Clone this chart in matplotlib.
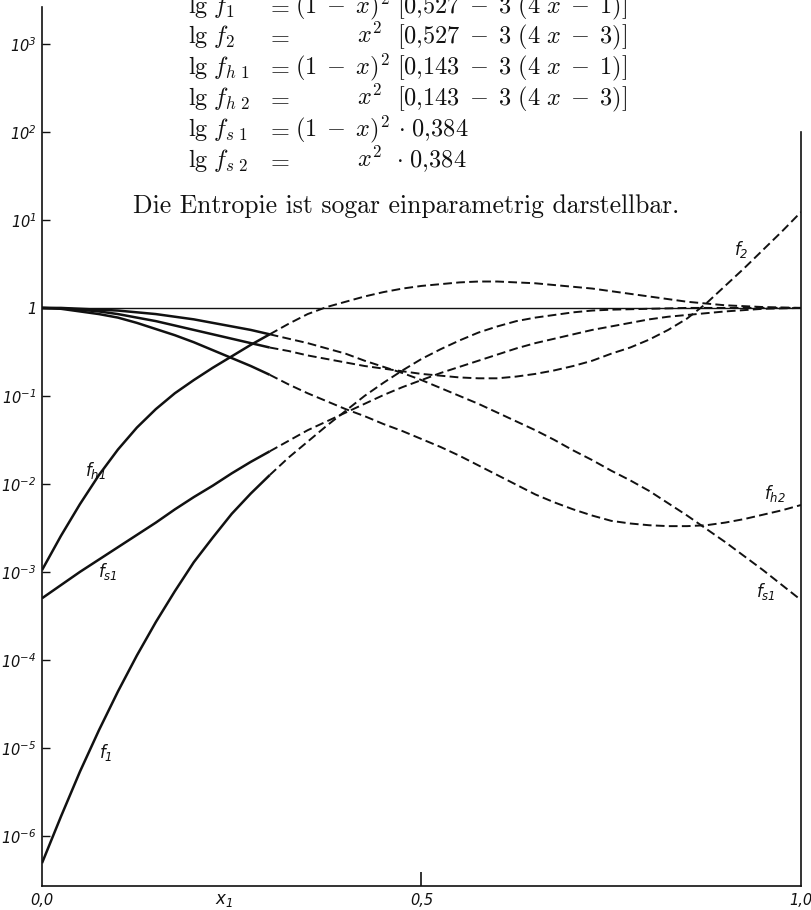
import matplotlib
matplotlib.use("Agg")
import matplotlib.pyplot as plt
from matplotlib.ticker import NullLocator
import numpy as np

plt.rcParams['font.family'] = ['DejaVu Sans']
plt.rcParams['mathtext.fontset'] = 'custom'
plt.rcParams['mathtext.rm'] = 'DejaVu Sans:italic'
plt.rcParams['mathtext.it'] = 'DejaVu Sans:italic'
plt.rcParams['mathtext.sf'] = 'DejaVu Sans:italic'

# ---------------- data (lg of the coefficients) ----------------
X = [0.000, 0.025, 0.050, 0.075, 0.100, 0.125, 0.150, 0.175, 0.200, 0.225,
     0.250, 0.275, 0.300, 0.325, 0.350, 0.375, 0.400, 0.425, 0.450, 0.475,
     0.500, 0.525, 0.550, 0.575, 0.600, 0.625, 0.650, 0.675, 0.700, 0.725,
     0.750, 0.775, 0.800, 0.825, 0.850, 0.875, 0.900, 0.925, 0.950, 0.975, 1.000]

LG_F1 = [-6.31, -5.78, -5.27, -4.80, -4.36, -3.95, -3.57, -3.22, -2.89, -2.61,
         -2.34, -2.11, -1.90, -1.70, -1.52, -1.34, -1.17, -1.00, -0.85, -0.71,
         -0.58, -0.47, -0.37, -0.28, -0.21, -0.15, -0.11, -0.08, -0.05, -0.03,
         -0.02, -0.015, -0.01, -0.005, 0.0, 0.0, 0.0, 0.0, 0.0, 0.0, 0.0]
LG_F2 = [0.0, -0.005, -0.02, -0.04, -0.07, -0.11, -0.15, -0.20, -0.25, -0.30,
         -0.35, -0.40, -0.45, -0.49, -0.54, -0.58, -0.62, -0.66, -0.69, -0.72,
         -0.75, -0.77, -0.79, -0.80, -0.80, -0.78, -0.75, -0.71, -0.66, -0.60,
         -0.52, -0.45, -0.36, -0.25, -0.12, 0.05, 0.25, 0.45, 0.66, 0.87, 1.09]
LG_FH1 = [-2.98, -2.59, -2.23, -1.90, -1.61, -1.36, -1.15, -0.97, -0.82, -0.68,
          -0.55, -0.42, -0.30, -0.18, -0.07, 0.01, 0.07, 0.13, 0.18, 0.22,
          0.25, 0.27, 0.29, 0.30, 0.30, 0.29, 0.28, 0.26, 0.24, 0.22,
          0.19, 0.16, 0.13, 0.10, 0.07, 0.05, 0.03, 0.02, 0.01, 0.005, 0.0]
LG_FH2 = [0.0, -0.01, -0.04, -0.07, -0.11, -0.17, -0.24, -0.31, -0.39, -0.48,
          -0.57, -0.66, -0.76, -0.87, -0.97, -1.06, -1.15, -1.23, -1.32, -1.40,
          -1.49, -1.58, -1.68, -1.79, -1.90, -2.01, -2.12, -2.21, -2.29, -2.36,
          -2.42, -2.45, -2.47, -2.48, -2.48, -2.47, -2.44, -2.40, -2.35, -2.30, -2.24]
LG_FS1 = [-3.30, -3.15, -3.00, -2.86, -2.72, -2.58, -2.44, -2.29, -2.15, -2.02,
          -1.88, -1.75, -1.63, -1.51, -1.39, -1.29, -1.19, -1.09, -0.99, -0.90,
          -0.82, -0.74, -0.67, -0.60, -0.53, -0.46, -0.40, -0.35, -0.30, -0.25,
          -0.21, -0.17, -0.13, -0.10, -0.08, -0.06, -0.04, -0.025, -0.01, -0.005, 0.0]
LG_FS2 = [0.0, 0.0, -0.01, -0.02, -0.03, -0.05, -0.07, -0.10, -0.13, -0.17,
          -0.21, -0.25, -0.30, -0.35, -0.40, -0.46, -0.52, -0.60, -0.67, -0.74,
          -0.82, -0.91, -1.00, -1.09, -1.19, -1.29, -1.39, -1.50, -1.62, -1.73,
          -1.85, -1.96, -2.08, -2.22, -2.36, -2.51, -2.66, -2.82, -2.98, -3.15, -3.32]

SOLID_END = 0.30  # curves are drawn solid up to here, dashed beyond

Y_TICKS = [1e-6, 1e-5, 1e-4, 1e-3, 1e-2, 1e-1, 1e0, 1e1, 1e2, 1e3]
Y_TICK_LABELS = [r'$10^{-6}$', r'$10^{-5}$', r'$10^{-4}$', r'$10^{-3}$', r'$10^{-2}$',
                 r'$10^{-1}$', r'$1$', r'$10^{1}$', r'$10^{2}$', r'$10^{3}$']
X_TICKS = [0.0, 0.5, 1.0]
X_TICK_LABELS = ['0,0', '0,5', '1,0']

CURVES = [
    (LG_F1, r'$f_1$', 0.084, -5.05),
    (LG_F2, r'$f_2$', 0.921, 0.66),
    (LG_FH1, r'$f_{h1}$', 0.070, -1.85),
    (LG_FH2, r'$f_{h2}$', 0.966, -2.11),
    (LG_FS1, r'$f_{s1}$', 0.087, -2.99),
    (LG_FS2, r'$f_{s1}$', 0.953, -3.22),
]

M = r'\;-\;'
FORMULA_LINES = [
    (r'$\mathrm{lg}\ f_1$', r'$(1' + M + r'x)^2$', 295, r'$[0{,}527' + M + r'3\ (4\ x' + M + r'1)]$', 397),
    (r'$\mathrm{lg}\ f_2$', r'$x^2$', 357, r'$[0{,}527' + M + r'3\ (4\ x' + M + r'3)]$', 397),
    (r'$\mathrm{lg}\ f_{h\ 1}$', r'$(1' + M + r'x)^2$', 295, r'$[0{,}143' + M + r'3\ (4\ x' + M + r'1)]$', 397),
    (r'$\mathrm{lg}\ f_{h\ 2}$', r'$x^2$', 357, r'$[0{,}143' + M + r'3\ (4\ x' + M + r'3)]$', 397),
    (r'$\mathrm{lg}\ f_{s\ 1}$', r'$(1' + M + r'x)^2$', 295, r'$\cdot\ 0{,}384$', 398),
    (r'$\mathrm{lg}\ f_{s\ 2}$', r'$x^2$', 357, r'$\cdot\ 0{,}384$', 396),
]
NOTE = 'Die Entropie ist sogar einparametrig darstellbar.'

# ---------------- figure ----------------
W, H = 812, 910
fig = plt.figure(figsize=(W / 100, H / 100), dpi=100)
ax = fig.add_axes([42 / W, 1 - 886 / H, (801 - 42) / W, (886 - 7) / H])

ink = '#111111'
x = np.array(X)
solid = x <= SOLID_END + 1e-9
dashed = x >= SOLID_END - 1e-9
for lg, lab, lx, ly in CURVES:
    y = 10 ** np.array(lg)
    ax.plot(x[solid], y[solid], color=ink, lw=1.8, solid_capstyle='butt')
    ax.plot(x[dashed], y[dashed], color=ink, lw=1.4, linestyle=(0, (4.5, 2.2)))
    ax.text(lx, 10 ** ly, lab, ha='center', va='center', fontsize=12, color=ink)

ax.axhline(1.0, color=ink, lw=1.0)

ax.set_yscale('log')
ax.set_xlim(0, 1)
ax.set_ylim(10 ** -6.57, 10 ** 3.42)
ax.set_yticks(Y_TICKS)
ax.set_yticklabels(Y_TICK_LABELS)
ax.yaxis.set_minor_locator(NullLocator())
ax.set_xticks(X_TICKS)
ax.set_xticklabels(X_TICK_LABELS, fontstyle='italic')
ax.tick_params(axis='y', direction='in', length=6, width=1, pad=4, labelsize=10.5, colors=ink)
ax.tick_params(axis='x', direction='in', length=10, width=1.2, pad=5, labelsize=10.5, colors=ink)
xt = ax.xaxis.get_major_ticks()
xt[0].tick1line.set_visible(False)
xt[2].tick1line.set_visible(False)

ax.spines['top'].set_visible(False)
ax.spines['right'].set_bounds(10 ** -6.57, 1e2)
for s in ('left', 'bottom', 'right'):
    ax.spines[s].set_linewidth(1.2)
    ax.spines[s].set_color(ink)

ax.annotate(r'$x_1$', xy=(0.24, 0), xycoords=('data', 'axes fraction'),
            xytext=(0, -3.5), textcoords='offset points', ha='center', va='top',
            fontsize=12, color=ink)

# ---------------- text block at top ----------------
def fx(px):
    return px / W

def fy(py):
    return 1 - py / H

FS = 17.5
baselines = [13, 43, 74, 105, 136, 167]
for (lhs, mid, midx, rhs, rhsx), b in zip(FORMULA_LINES, baselines):
    fig.text(fx(188), fy(b), lhs, fontsize=FS, math_fontfamily='cm', va='baseline', color=ink)
    fig.text(fx(266), fy(b), r'$=$', fontsize=FS, math_fontfamily='cm', va='baseline', color=ink)
    fig.text(fx(midx), fy(b), mid, fontsize=FS, math_fontfamily='cm', va='baseline', color=ink)
    fig.text(fx(rhsx), fy(b), rhs, fontsize=FS, math_fontfamily='cm', va='baseline', color=ink)

fig.text(fx(133), fy(213), NOTE, fontsize=18.5, family='cmr10', va='baseline', color=ink)

fig.savefig('out.png', dpi=100, facecolor='white')
